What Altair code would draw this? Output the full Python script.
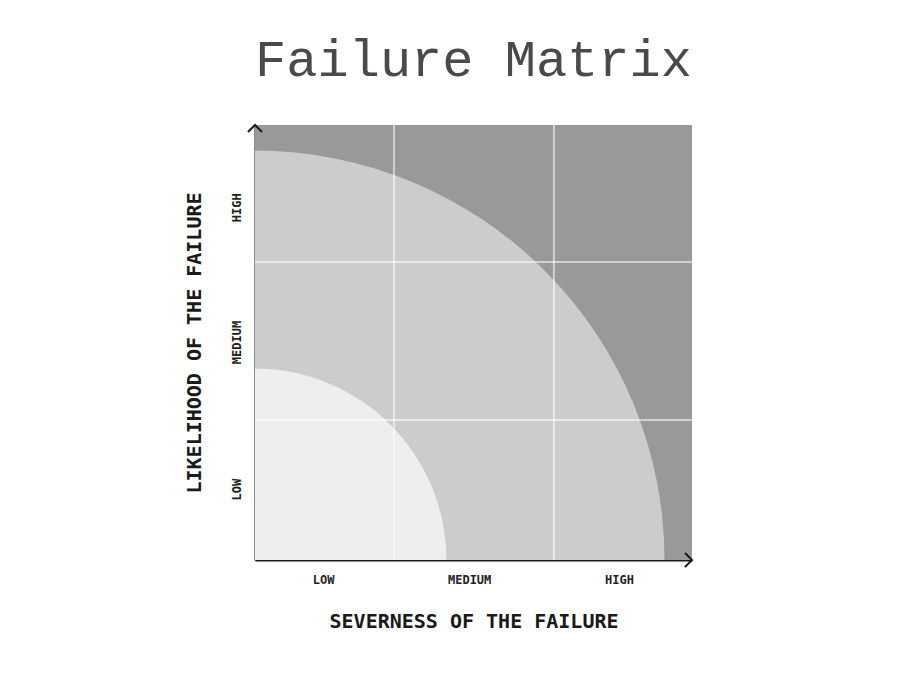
import math
import altair as alt
import pandas as pd

# ---- data ----
zone_radius = [93.7, 43.8]              # outer / inner risk zone radius (axis units)
zone_color = ["#cccccc", "#eeeeee"]
grid_x = [31.8, 68.4]
grid_y = [32.2, 68.5]
x_tick_pos = [15.6, 49.0, 83.3]
y_tick_pos = [16.3, 50.1, 81.1]
tick_labels = ["LOW", "MEDIUM", "HIGH"]
X_MAX = 100
Y_MAX = 100

W, H = 437, 435

zones = pd.DataFrame({"r": zone_radius, "c": zone_color})
gx = pd.DataFrame({"x": grid_x})
gy = pd.DataFrame({"y": grid_y})
field = pd.DataFrame({"x": [0], "x2": [X_MAX], "y": [0], "y2": [Y_MAX]})
arrows_x = pd.DataFrame({"x": [X_MAX], "y": [0]})
arrows_y = pd.DataFrame({"x": [0], "y": [Y_MAX]})

def lbl_expr(pos):
    return (f"datum.value < {(pos[0]+pos[1])/2} ? '{tick_labels[0]}' : "
            f"(datum.value < {(pos[1]+pos[2])/2} ? '{tick_labels[1]}' : '{tick_labels[2]}')")

xs = alt.Scale(domain=[0, X_MAX], nice=False, zero=True)
ys = alt.Scale(domain=[0, Y_MAX], nice=False, zero=True)

x_axis = alt.Axis(values=x_tick_pos, labelExpr=lbl_expr(x_tick_pos), ticks=False, grid=False,
                  domainColor="#1a1a1a", domainWidth=2, labelFont="DejaVu Sans Mono",
                  labelFontWeight="bold", labelFontSize=12, labelColor="#222",
                  labelPadding=14, title="SEVERNESS OF THE FAILURE", titleFont="DejaVu Sans Mono",
                  titleFontSize=20, titleFontWeight="bold", titleColor="#1a1a1a", titlePadding=26)
y_axis = alt.Axis(values=y_tick_pos, labelExpr=lbl_expr(y_tick_pos), ticks=False, grid=False,
                  domainColor="#1a1a1a", domainWidth=2, labelFont="DejaVu Sans Mono",
                  labelFontWeight="bold", labelFontSize=12, labelColor="#222", labelAngle=270,
                  labelPadding=12, title="LIKELIHOOD OF THE FAILURE", titleFont="DejaVu Sans Mono",
                  titleFontSize=20, titleFontWeight="bold", titleColor="#1a1a1a", titlePadding=26)

background = alt.Chart(field).mark_rect(color="#999999").encode(
    x=alt.X("x:Q", scale=xs, axis=x_axis),
    x2="x2:Q",
    y=alt.Y("y:Q", scale=ys, axis=y_axis),
    y2="y2:Q",
)

arcs = alt.Chart(zones).mark_arc(x=0, y="height", theta=0, theta2=math.pi / 2).encode(
    radius=alt.Radius("r:Q", stack=None,
                      scale=alt.Scale(type="linear", domain=[0, X_MAX], range=[0, W], zero=True)),
    color=alt.Color("c:N", scale=None),
)

vgrid = alt.Chart(gx).mark_rule(color="white", opacity=0.55, strokeWidth=2).encode(
    x=alt.X("x:Q", scale=xs))
hgrid = alt.Chart(gy).mark_rule(color="white", opacity=0.55, strokeWidth=2).encode(
    y=alt.Y("y:Q", scale=ys))

arrow_r = alt.Chart(arrows_x).mark_point(
    shape="M -1 -1 L 0 0 L -1 1", filled=False, color="#1a1a1a", strokeWidth=2, size=196, opacity=1
).encode(x=alt.X("x:Q", scale=xs), y=alt.Y("y:Q", scale=ys))
arrow_u = alt.Chart(arrows_y).mark_point(
    shape="M -1 1 L 0 0 L 1 1", filled=False, color="#1a1a1a", strokeWidth=2, size=196, opacity=1
).encode(x=alt.X("x:Q", scale=xs), y=alt.Y("y:Q", scale=ys))

chart = alt.layer(background, arcs, vgrid, hgrid, arrow_r, arrow_u).properties(
    width=W, height=H,
    title=alt.TitleParams("Failure Matrix", font="Liberation Mono", fontSize=52,
                          fontWeight="normal", color="#4a4a4a", anchor="middle", offset=34),
    autosize=alt.AutoSizeParams(type="none"),
    padding={"left": 247, "top": 117, "right": 224, "bottom": 107},
).configure(background="white").configure_view(stroke=None)

chart.save("out.html", embed_options={"renderer": "svg", "actions": False})
